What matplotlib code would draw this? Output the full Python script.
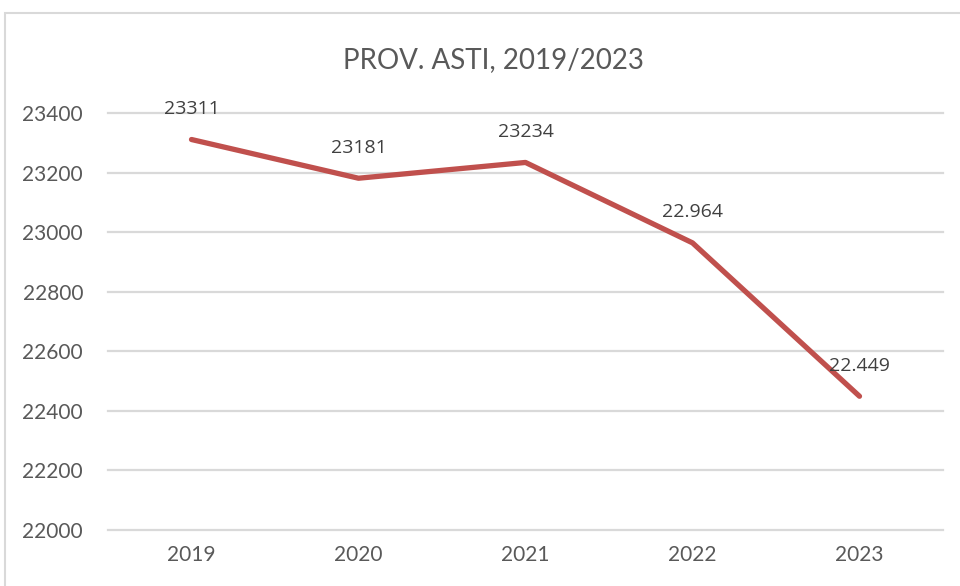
import matplotlib.pyplot as plt
from matplotlib.patches import Rectangle

years = ['2019', '2020', '2021', '2022', '2023']
values = [23311, 23181, 23234, 22964, 22449]
labels = ['23311', '23181', '23234', '22.964', '22.449']
yticks = [22000, 22200, 22400, 22600, 22800, 23000, 23200, 23400]

fig = plt.figure(figsize=(9.6, 5.86), dpi=100)
# chart frame, cut off at the right and bottom like the screenshot
fig.patches.append(Rectangle((5 / 960, -0.1), 1.0, 1 - 13 / 586 + 0.1,
                             transform=fig.transFigure, fill=False,
                             edgecolor='#D9D9D9', linewidth=1.5))

ax = fig.add_axes([108 / 960, 1 - 530 / 586, (943 - 108) / 960, (530 - 113) / 586])
x = range(len(years))
ax.plot(x, values, color='#C0504D', linewidth=3.8, solid_capstyle='round', zorder=3)
for i, (v, lab) in enumerate(zip(values, labels)):
    ax.annotate(lab, (i, v), xytext=(0, 22), textcoords='offset points',
                ha='center', va='center', fontsize=14, color='#404040',
                family='Open Sans', zorder=4)

ax.set_xlim(-0.5, len(years) - 0.5)
ax.set_ylim(22000, 23400)
ax.set_yticks(yticks)
ax.set_xticks(list(x))
ax.set_xticklabels(years)
ax.grid(axis='y', color='#D9D9D9', linewidth=1.6)
for gl in ax.get_ygridlines():
    gl.set_clip_on(False)
ax.set_axisbelow(True)
for s in ax.spines.values():
    s.set_visible(False)
ax.tick_params(length=0, labelsize=15, labelcolor='#595959')
ax.tick_params(axis='x', pad=11)
ax.tick_params(axis='y', pad=18)
for t in ax.get_xticklabels() + ax.get_yticklabels():
    t.set_family('Lato')

fig.text(493 / 960, 1 - 60 / 586, 'PROV. ASTI, 2019/2023', ha='center', va='center',
         fontsize=20, color='#595959', family='Lato')

fig.savefig('out.png', dpi=100)
